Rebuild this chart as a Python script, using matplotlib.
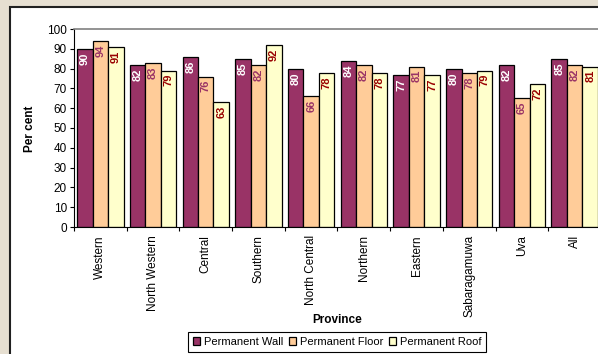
import numpy as np
import matplotlib
matplotlib.use("Agg")
import matplotlib.pyplot as plt
from matplotlib.patches import Rectangle

plt.rcParams['font.family'] = ['Liberation Sans', 'DejaVu Sans']

# housing quality by province
provinces = ["Western", "North Western", "Central", "Southern", "North Central",
             "Northern", "Eastern", "Sabaragamuwa", "Uva", "All"]
wall = [90, 82, 86, 85, 80, 84, 77, 80, 82, 85]
floor = [94, 83, 76, 82, 66, 82, 81, 78, 65, 82]
roof = [91, 79, 63, 92, 78, 78, 77, 79, 72, 81]

series = [("Permanent Wall", wall, "#993366", "white"),
          ("Permanent Floor", floor, "#FFCC99", "#993366"),
          ("Permanent Roof", roof, "#FFFFCC", "#990000")]

W, H = 598, 354
fig = plt.figure(figsize=(W / 100, H / 100), dpi=100)
fig.patch.set_facecolor("#E6DFD1")

# white chart area with dark border
fig.patches.append(Rectangle((10 / W, -0.1), 1.2, 1 - 7.5 / H + 0.1,
                             transform=fig.transFigure, facecolor="white",
                             edgecolor="#202020", linewidth=1.5, zorder=-10))

ax = fig.add_axes([74 / W, 127 / H, 527 / W, 198 / H])
ax.set_facecolor("white")
ax.set_zorder(2)

x = np.arange(len(provinces))
bw = 0.294
for k, (name, vals, col, tcol) in enumerate(series):
    pos = x + (k - 1) * bw
    ax.bar(pos, vals, bw, color=col, edgecolor="black", linewidth=0.9, label=name)
    for p, v in zip(pos, vals):
        ax.annotate(str(v), (p, v), xytext=(0, -2.5), textcoords="offset points",
                    rotation=90, ha="center", va="top", fontsize=8,
                    fontweight="bold", color=tcol)

ax.set_xlim(-0.5, len(provinces) - 0.5)
ax.set_ylim(0, 100)
ax.set_yticks(range(0, 101, 10))
ax.set_xticks(x)
ax.set_xticklabels(provinces, rotation=90, va="top", ha="center", fontsize=8.5)
ax.set_xticks(np.arange(len(provinces) + 1) - 0.5, minor=True)
ax.tick_params(axis="x", which="major", length=0, pad=6)
ax.tick_params(axis="x", which="minor", length=3, width=0.8)
ax.tick_params(axis="y", length=3, width=0.8, labelsize=8.5, pad=2)

for s in ["left", "bottom"]:
    ax.spines[s].set_color("black")
    ax.spines[s].set_linewidth(0.8)
ax.spines["top"].set_color("#808080")
ax.spines["top"].set_linewidth(1.2)
ax.spines["right"].set_color("#808080")

fig.text(30 / W, 1 - 129 / H, "Per cent", rotation=90, ha="center", va="center",
         fontsize=8.5, fontweight="bold")
fig.text(337 / W, 1 - 320 / H, "Province", ha="center", va="center",
         fontsize=8.5, fontweight="bold")

leg = fig.legend(loc="upper center", bbox_to_anchor=(337 / W, 1 - 332 / H), ncol=3,
                 fontsize=8, handlelength=0.7, handleheight=0.7, handletextpad=0.3,
                 columnspacing=0.5, borderpad=0.45, borderaxespad=0, fancybox=False,
                 framealpha=1, edgecolor="black")
leg.get_frame().set_linewidth(0.8)

fig.savefig("out.png", dpi=100, facecolor=fig.get_facecolor())
